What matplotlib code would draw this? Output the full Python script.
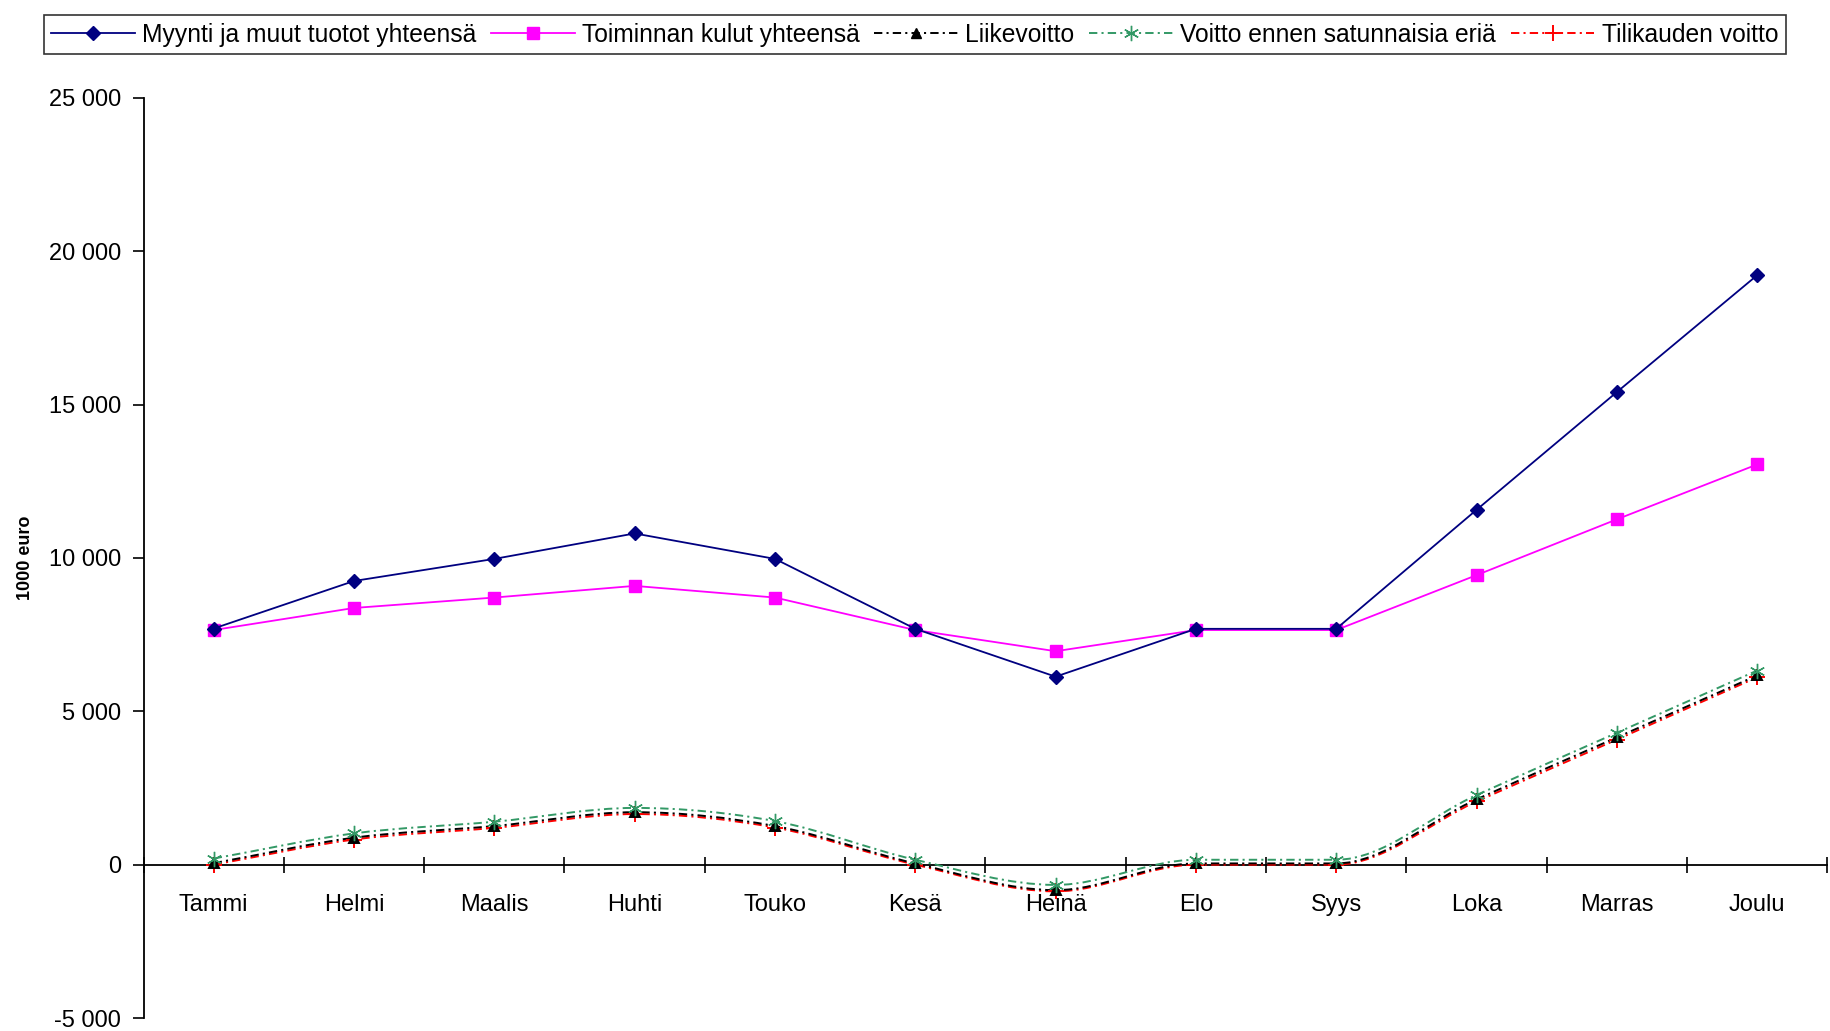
import numpy as np
import matplotlib
matplotlib.use("Agg")
import matplotlib.pyplot as plt
from matplotlib.path import Path
from matplotlib.patches import PathPatch
from matplotlib.lines import Line2D
from matplotlib.ticker import FixedLocator, FuncFormatter

plt.rcParams["font.family"] = ["Liberation Sans", "DejaVu Sans"]
plt.rcParams["lines.scale_dashes"] = False

# --- data (1000 euro) ---
months = ["Tammi", "Helmi", "Maalis", "Huhti", "Touko", "Kesä",
          "Heinä", "Elo", "Syys", "Loka", "Marras", "Joulu"]
myynti = [7700, 9250, 9970, 10800, 9970, 7690, 6130, 7690, 7690, 11570, 15410, 19220]
kulut = [7650, 8370, 8710, 9090, 8710, 7650, 6960, 7650, 7650, 9440, 11260, 13050]
liikevoitto = [50, 880, 1260, 1710, 1260, 40, -830, 40, 40, 2130, 4150, 6170]
voitto_ennen = [200, 1020, 1400, 1850, 1420, 160, -660, 160, 160, 2270, 4300, 6330]
tilikauden_voitto = [0, 820, 1200, 1650, 1210, 0, -870, 0, 0, 2060, 4080, 6110]

labels = ["Myynti ja muut tuotot yhteensä", "Toiminnan kulut yhteensä", "Liikevoitto",
          "Voitto ennen satunnaisia eriä", "Tilikauden voitto"]

DASHDOT = (0, (6, 3, 1.5, 3))
ASTERISK = (6, 2, 0)


def smooth_path(x, y):
    """Bezier path through the points; flat tangent at local extrema / flat runs."""
    x = np.asarray(x, float)
    y = np.asarray(y, float)
    n = len(x)
    slopes = np.diff(y) / np.diff(x)
    tang = np.zeros(n)
    tang[0] = slopes[0]
    tang[-1] = slopes[-1]
    for i in range(1, n - 1):
        if slopes[i - 1] * slopes[i] > 0:
            tang[i] = (slopes[i - 1] + slopes[i]) / 2
    verts = [(x[0], y[0])]
    codes = [Path.MOVETO]
    for i in range(n - 1):
        h = (x[i + 1] - x[i]) / 3
        verts += [(x[i] + h, y[i] + tang[i] * h),
                  (x[i + 1] - h, y[i + 1] - tang[i + 1] * h),
                  (x[i + 1], y[i + 1])]
        codes += [Path.CURVE4] * 3
    return Path(verts, codes)


fig = plt.figure(figsize=(18.31, 10.31), dpi=100)
ax = fig.add_axes([0.0784, 0.0126, 0.9196, 0.8924])

x = np.arange(len(months))

# straight lines
ax.plot(x, myynti, color="#000080", lw=1.3, marker="D", ms=7, zorder=5)
ax.plot(x, kulut, color="#FF00FF", lw=1.3, marker="s", ms=8, zorder=4)

# smoothed profit lines
smooth_series = [
    (tilikauden_voitto, "#FF0000", "+", 11, 1.4),
    (liikevoitto, "black", "^", 7, 1.4),
    (voitto_ennen, "#339966", ASTERISK, 11, 1.0),
]
for vals, col, mk, ms, mew in smooth_series:
    patch = PathPatch(smooth_path(x, vals), fill=False, edgecolor=col, lw=1.4,
                      linestyle=DASHDOT, zorder=3)
    ax.add_patch(patch)
    ax.plot(x, vals, linestyle="none", marker=mk, ms=ms, color=col, mew=mew, zorder=6)

# axes styling
ax.set_xlim(-0.5, len(months) - 0.5)
ax.set_ylim(-5000, 25000)
for s in ["top", "right"]:
    ax.spines[s].set_visible(False)
ax.spines["bottom"].set_position(("data", 0))
ax.spines["left"].set_linewidth(1.3)
ax.spines["bottom"].set_linewidth(1.3)

ax.yaxis.set_major_locator(FixedLocator(np.arange(-5000, 25001, 5000)))
ax.yaxis.set_major_formatter(FuncFormatter(lambda v, p: f"{int(v):,}".replace(",", " ")))
ax.tick_params(axis="y", direction="out", length=8, width=1.2, labelsize=17, pad=8)

ax.xaxis.set_major_locator(FixedLocator(np.arange(-0.5, len(months), 1.0)))
ax.xaxis.set_major_formatter(FuncFormatter(lambda v, p: ""))
ax.xaxis.set_minor_locator(FixedLocator(x))
ax.set_xticklabels(months, minor=True)
ax.tick_params(axis="x", which="major", direction="inout", length=12, width=1.2)
ax.tick_params(axis="x", which="minor", length=0, labelsize=17, pad=21)

ax.set_ylabel("1000 euro", fontsize=13, fontweight="bold")
ax.yaxis.set_label_coords(-0.065, 0.5)

# legend
handles = [
    Line2D([], [], color="#000080", lw=1.3, marker="D", ms=7),
    Line2D([], [], color="#FF00FF", lw=1.3, marker="s", ms=8),
    Line2D([], [], color="black", lw=1.4, linestyle=DASHDOT, marker="^", ms=7),
    Line2D([], [], color="#339966", lw=1.4, linestyle=DASHDOT, marker=ASTERISK, ms=11, mew=1.0),
    Line2D([], [], color="#FF0000", lw=1.4, linestyle=DASHDOT, marker="+", ms=11, mew=1.4),
]
leg = fig.legend(handles, labels, loc="upper center", bbox_to_anchor=(0.4995, 0.997),
                 ncol=5, fontsize=17.7, frameon=True, fancybox=False, edgecolor="black",
                 handlelength=3.4, handletextpad=0.3, columnspacing=0.6,
                 borderpad=0.3)
leg.get_frame().set_linewidth(1.2)

fig.savefig("out.png", dpi=100)
